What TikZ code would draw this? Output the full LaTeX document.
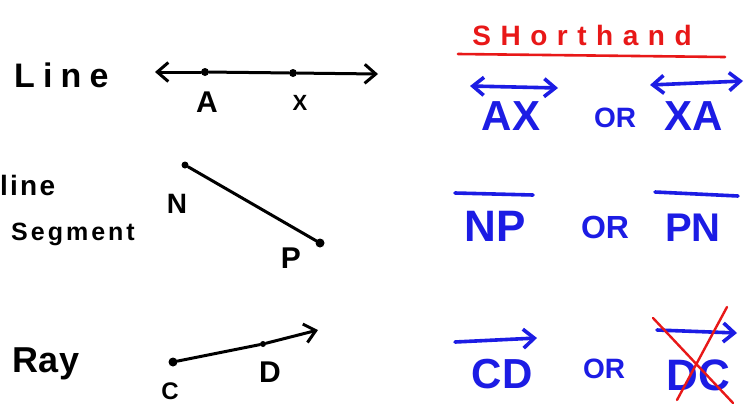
\documentclass[tikz,border=0pt]{standalone}
\usepackage{fontspec}
\setmainfont{Liberation Sans}
\usetikzlibrary{arrows.meta}
\definecolor{inkblue}{RGB}{28,28,228}
\definecolor{inkred}{RGB}{232,24,24}
\newcommand{\spaced}[2]{\addfontfeatures{LetterSpace=#1}#2}

\begin{document}
\begin{tikzpicture}[x=1pt,y=-1pt,
    txt/.style={inner sep=0pt,anchor=base,font=\fontsize{#1}{#1}\selectfont\bfseries},
    pen/.style={line width=3pt,line cap=round},
    tip/.style={-{Straight Barb[length=11pt,width=19pt]}},
    twotip/.style={{Straight Barb[length=11pt,width=18pt]}-{Straight Barb[length=11pt,width=18pt]}},
    dot/.style={circle,fill,inner sep=0pt,minimum size=8pt}]
  \useasboundingbox[fill=white] (0,0) rectangle (746,405);
  % left column: names
  \node[txt=34,anchor=base west] (line) at (14,87) {\spaced{24}{Line}};
  \node[txt=28,anchor=base west] (lineb) at (0,195) {\spaced{8}{line}};
  \node[txt=25,anchor=base west] (seg) at (11,240) {\spaced{12}{Segment}};
  \node[txt=36,anchor=base west] (ray) at (12,372) {\spaced{2}{Ray}};
  % line AX
  \node[dot] (pA) at (205,72) {};
  \node[dot] (pX) at (293,73) {};
  \coordinate (lL) at (155,72);
  \coordinate (lR) at (378,74);
  \draw[pen,tip] (pA) -- (lL);
  \draw[pen,tip] (pA) -- (pX) -- (lR);
  \node[txt=30] (tA) at (207,112) {A};
  \node[txt=22] (tX) at (300,110) {X};
  % segment NP
  \node[dot,minimum size=7pt] (pN) at (185,165) {};
  \node[dot,minimum size=9pt] (pP) at (320,243) {};
  \draw[pen] (pN) -- (pP);
  \node[txt=28] (tN) at (177,213) {N};
  \node[txt=30] (tP) at (291,268) {P};
  % ray CD
  \node[dot,minimum size=9pt] (pC) at (173,362) {};
  \node[dot,minimum size=6pt] (pD) at (263,344) {};
  \coordinate (rE) at (318,330);
  \draw[pen,tip] (pC) -- (pD) -- (rE);
  \node[txt=24] (tC) at (170,399) {C};
  \node[txt=30] (tD) at (270,382) {D};
  % right column: shorthand
  \begin{scope}[inkred]
    \node[txt=28] (head) at (582,45) {\spaced{34}{SHorthand}};
    \coordinate (uL) at (458,54);
    \coordinate (uR) at (725,57);
    \draw[line width=2.6pt,line cap=round] (uL) -- (uR);
  \end{scope}
  \begin{scope}[inkblue,pen/.append style={line width=3.6pt}]
    \node[txt=42] (sAX) at (511,130) {AX};
    \node[txt=28] (or1) at (615,127) {OR};
    \node[txt=42] (sXA) at (694,130) {XA};
    \coordinate (a1L) at (470,86);
    \coordinate (a1R) at (558,88);
    \coordinate (a2L) at (650,85);
    \coordinate (a2R) at (743,81);
    \draw[pen,twotip] (a1L) -- (a1R);
    \draw[pen,twotip] (a2L) -- (a2R);
    \node[txt=44] (sNP) at (495,241) {NP};
    \node[txt=32] (or2) at (605,238) {OR};
    \node[txt=40] (sPN) at (693,241) {PN};
    \coordinate (b1L) at (455,193);
    \coordinate (b1R) at (533,195);
    \coordinate (b2L) at (655,192);
    \coordinate (b2R) at (738,196);
    \draw[pen] (b1L) -- (b1R);
    \draw[pen] (b2L) -- (b2R);
    \node[txt=42] (sCD) at (502,388) {CD};
    \node[txt=28] (or3) at (604,378) {OR};
    \node[txt=44] (sDC) at (698,390) {DC};
    \coordinate (c1L) at (455,342);
    \coordinate (c1R) at (537,338);
    \coordinate (c2L) at (657,330);
    \coordinate (c2R) at (737,333);
    \draw[pen,tip] (c1L) -- (c1R);
    \draw[pen,tip] (c2L) -- (c2R);
  \end{scope}
  % crossed out
  \coordinate (x1) at (653,318);
  \coordinate (x2) at (733,403);
  \coordinate (x3) at (727,307);
  \coordinate (x4) at (677,400);
  \draw[inkred,line width=2.4pt,line cap=round] (x1) -- (x2) (x3) -- (x4);
\end{tikzpicture}
\end{document}
